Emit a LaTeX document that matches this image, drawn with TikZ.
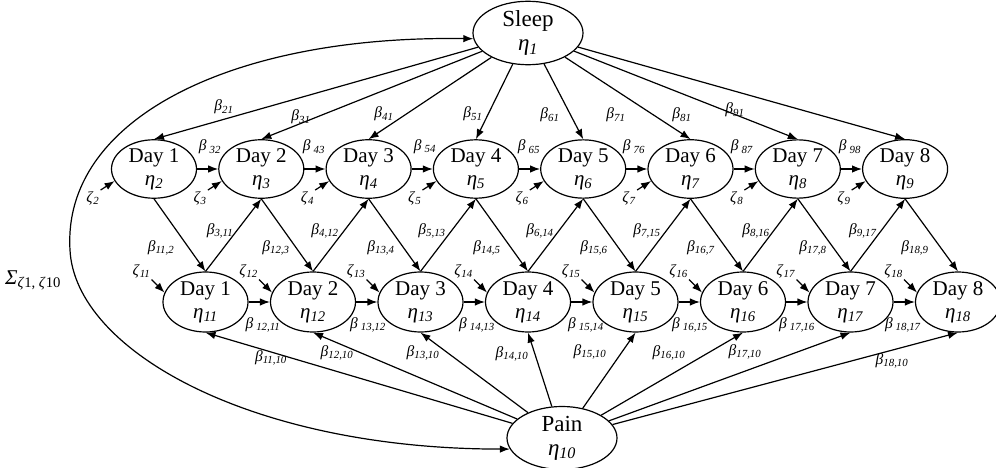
\documentclass[tikz,border=0pt]{standalone}
\usepackage{fontspec}
\setmainfont{Liberation Serif}
\usetikzlibrary{shapes.geometric,arrows.meta,calc}

\newcommand{\lv}[2]{\textit{#1}\textsubscript{\textit{#2}}}

\begin{document}
\begin{tikzpicture}[
  x=1pt,y=-1pt,
  >={Latex[length=10pt,width=7.5pt]},
  every node/.style={font=\fontsize{15.5}{17}\selectfont},
  latent/.style={draw,ellipse,line width=1.2pt,inner sep=0pt,align=center,
    minimum width=85pt,minimum height=58pt,font=\fontsize{21}{23}\selectfont},
  big/.style={latent,minimum width=110pt,minimum height=63pt,
    font=\fontsize{23}{24}\selectfont},
  eff/.style={->,line width=1.2pt},
  lbl/.style={inner sep=1pt}
]
\useasboundingbox (0,0) rectangle (996,468);

% Sleep und Pain
\node[big] (sleep) at (528,33) {Sleep\\\lv{η}{1}};
\node[big] (pain) at (562,438) {Pain\\\lv{η}{10}};

% die beiden Reihen der Tage
\foreach \i in {1,...,8}{
  \pgfmathtruncatemacro{\k}{\i+1}
  \pgfmathtruncatemacro{\m}{\i+10}
  \node[latent] (t\i) at ({154+107.3*(\i-1)},169) {Day \i\\\lv{η}{\k}};
  \node[latent,minimum height=60pt] (b\i) at ({205.5+107.5*(\i-1)},302) {Day \i\\\lv{η}{\m}};
  \draw[eff] (sleep) -- (t\i.north);
  \draw[eff] (pain) -- (b\i.south);
  \draw[eff] (t\i.south) -- (b\i.north);
  % Residuen
  \node[lbl,anchor=north east] (zt\i) at ($(t\i.197)+(-14,9)$) {\lv{ζ}{\k}};
  \draw[eff] (zt\i.north east) -- (t\i.197);
  \node[lbl,anchor=south east] (zb\i) at ($(b\i.167)+(-13,-13)$) {\lv{ζ}{\m}};
  \draw[eff] (zb\i.south east) -- (b\i.167);
}
\foreach \i [count=\j from 2] in {1,...,7}{
  \draw[eff] (t\i) -- (t\j);
  \draw[eff] (b\i) -- (b\j);
  \draw[eff] (b\i.north) -- (t\j.south);
}

% Kovarianz
\draw[eff,<->] (pain.192) .. controls (250,449) and (75,350) .. (70,250)
  .. controls (62,120) and (230,35) .. (sleep.186);
\node[lbl,font=\fontsize{21}{23}\selectfont] (sig) at (33,280)
  {\textit{Σ}\textsubscript{\textit{ζ}1, \textit{ζ}10}};

% Pfadkoeffizienten
\foreach \x/\y/\s [count=\n] in {224/107/21,301/117/31,384/114/41,473/114/51,
    550/115/61,616/115/71,682/115/81,735/110/91}
  \node[lbl] (ls\n) at (\x,\y) {\lv{β}{\s}};
\foreach \x/\s [count=\n] in {210/32,314/43,425/54,529/65,634/76,742/87,850/98}
  \node[lbl] (lt\n) at (\x,147) {\lv{β\hspace{3pt}}{\s}};
\foreach \x/\a/\b [count=\n] in {161/11/2,276/12/3,381/13/4,487/14/5,
    594/15/6,701/16/7,813/17/8,915/18/9}
  \node[lbl] (ld\n) at (\x,248) {\lv{β}{\a,\b}};
\foreach \x/\a/\b [count=\n] in {220/3/11,325/4/12,432/5/13,540/6/14,
    647/7/15,756/8/16,863/9/17}
  \node[lbl] (lu\n) at (\x,231) {\lv{β}{\a,\b}};
\foreach \x/\a/\b [count=\n] in {263/12/11,368/13/12,477/14/13,586/15/14,
    690/16/15,797/17/16,903/18/17}
  \node[lbl] (lb\n) at (\x,325) {\lv{β\hspace{3pt}}{\a,\b}};
\foreach \x/\y/\a [count=\n] in {271/358/11,337/353/12,423/353/13,512/354/14,
    590/352/15,669/353/16,745/352/17,892/361/18}
  \node[lbl] (lp\n) at (\x,\y) {\lv{β}{\a,10}};
\end{tikzpicture}
\end{document}
